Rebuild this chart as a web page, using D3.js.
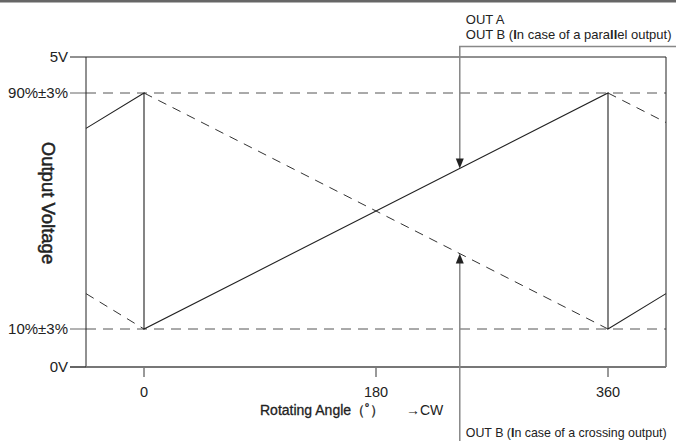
<!DOCTYPE html>
<html>
<head>
<meta charset="utf-8">
<script src="https://cdn.jsdelivr.net/npm/d3@7"></script>
<style>
  body { margin: 0; background: #fff; }
  text { font-family: "Liberation Sans", Arial, sans-serif; fill: #222; }
</style>
</head>
<body>
<div id="chart"></div>
<script>
// levels on the voltage axis (percent of 5V) and their labels
const levelValues = [0, 10, 90, 100];
const levelLabels = ["0V", "10%±3%", "90%±3%", "5V"];

// angle ticks (degrees)
const angleTicks = [0, 180, 360];

// OUT A (and OUT B in parallel mode): solid, rises over the turn
const outA = [[-45, 78], [0, 90], [0, 10], [360, 90], [360, 10], [405, 22]];
// OUT B in crossing mode: dashed, falls over the turn (pieces)
const outBCross = [
  [[-45, 22], [0, 10]],
  [[0, 90], [360, 10]],
  [[360, 90], [405, 80]]
];

// where the two callout arrows touch the curves
const calloutAngle = 245;
const calloutA = 64.4;
const calloutB = 35.6;

const width = 676, height = 441;
const margin = {left: 86, right: 10, top: 57, bottom: 74};

const svg = d3.select('#chart').append('svg')
    .attr('width', width)
    .attr('height', height);

// grey band at the very top
svg.append('rect')
    .attr('x', 0).attr('y', 0)
    .attr('width', width).attr('height', 2.5)
    .attr('fill', '#666');

const x = d3.scaleLinear()
    .domain([-45, 405])
    .range([margin.left, width - margin.right]);

// schematic axis: the picture is not linear, so use a piecewise scale
const y = d3.scaleLinear()
    .domain(levelValues)
    .range([367, 329, 93, 57]);

const x0 = x.range()[0], x1 = x.range()[1];

// reference lines for 10% and 90%
svg.selectAll('.ref')
    .data([10, 90])
    .join('line')
    .attr('class', 'ref')
    .attr('x1', x0).attr('x2', x1)
    .attr('y1', d => y(d)).attr('y2', d => y(d))
    .attr('stroke', '#555')
    .attr('stroke-width', 1)
    .attr('stroke-dasharray', '10,7');

// left stubs + labels
svg.selectAll('.stub')
    .data(levelValues)
    .join('line')
    .attr('class', 'stub')
    .attr('x1', 70).attr('x2', x0)
    .attr('y1', d => y(d)).attr('y2', d => y(d))
    .attr('stroke', d => d === 100 ? '#222' : '#666')
    .attr('stroke-width', d => d === 0 ? 2 : 1);

svg.selectAll('.lvl')
    .data(levelValues)
    .join('text')
    .attr('class', 'lvl')
    .attr('x', 68)
    .attr('y', d => y(d) + 5)
    .attr('text-anchor', 'end')
    .attr('font-size', 15)
    .text((d, i) => levelLabels[i]);

// frame: top 5V line, sides, bottom 0V axis
svg.append('line')
    .attr('x1', x0).attr('x2', x1)
    .attr('y1', y(100)).attr('y2', y(100))
    .attr('stroke', '#222');
svg.append('line')
    .attr('x1', x0).attr('x2', x0)
    .attr('y1', y(100)).attr('y2', y(0))
    .attr('stroke', '#222');
svg.append('line')
    .attr('x1', x1).attr('x2', x1)
    .attr('y1', y(100)).attr('y2', y(0))
    .attr('stroke', '#222');
svg.append('line')
    .attr('x1', x0).attr('x2', x1)
    .attr('y1', y(0)).attr('y2', y(0))
    .attr('stroke', '#777')
    .attr('stroke-width', 2);

// bottom ticks
svg.selectAll('.tick')
    .data(angleTicks)
    .join('line')
    .attr('class', 'tick')
    .attr('x1', d => x(d)).attr('x2', d => x(d))
    .attr('y1', y(0)).attr('y2', y(0) + 10)
    .attr('stroke', '#777')
    .attr('stroke-width', 1.5);
svg.selectAll('.tlab')
    .data(angleTicks)
    .join('text')
    .attr('class', 'tlab')
    .attr('x', d => x(d))
    .attr('y', 397)
    .attr('text-anchor', 'middle')
    .attr('font-size', 14.5)
    .text(d => d);

const line = d3.line().x(d => x(d[0])).y(d => y(d[1]));

// OUT B crossing (dashed)
svg.selectAll('.outb')
    .data(outBCross)
    .join('path')
    .attr('class', 'outb')
    .attr('d', line)
    .attr('fill', 'none')
    .attr('stroke', '#333')
    .attr('stroke-width', 1)
    .attr('stroke-dasharray', '9,7');

// OUT A (solid)
svg.append('path')
    .attr('d', line(outA))
    .attr('fill', 'none')
    .attr('stroke', '#222')
    .attr('stroke-width', 1.1);

// callouts
const cx = x(calloutAngle);
const tipA = y(calloutA), tipB = y(calloutB);

svg.append('path')
    .attr('d', `M${width + 5},46.5H${cx}V${tipA - 9}`)
    .attr('fill', 'none')
    .attr('stroke', '#888')
    .attr('stroke-width', 1.5);
svg.append('path')
    .attr('d', `M${cx},${tipA}l-4,-10h8z`)
    .attr('fill', '#222');

svg.append('path')
    .attr('d', `M${cx},${height + 5}V${tipB + 9}`)
    .attr('fill', 'none')
    .attr('stroke', '#888')
    .attr('stroke-width', 1.5);
svg.append('path')
    .attr('d', `M${cx},${tipB}l-4,10h8z`)
    .attr('fill', '#222');

// callout texts
svg.append('text')
    .attr('x', cx + 6).attr('y', 24)
    .attr('font-size', 13)
    .text('OUT A');

const tB = svg.append('text')
    .attr('x', cx + 6).attr('y', 38.5)
    .attr('font-size', 13);
tB.append('tspan').text('OUT B (');
tB.append('tspan').attr('font-weight', 'bold').text('I');
tB.append('tspan').text('n case of a para');
tB.append('tspan').attr('font-weight', 'bold').text('ll');
tB.append('tspan').text('el output)');

const tC = svg.append('text')
    .attr('x', cx + 6).attr('y', 436.5)
    .attr('font-size', 12.4);
tC.append('tspan').text('OUT B (');
tC.append('tspan').attr('font-weight', 'bold').text('I');
tC.append('tspan').text('n case of a crossing output)');

// axis titles
svg.append('text')
    .attr('transform', 'translate(42,203) rotate(90)')
    .attr('text-anchor', 'middle')
    .attr('font-size', 18.5)
    .attr('stroke', '#222')
    .attr('stroke-width', 0.5)
    .text('Output Voltage');

svg.append('text')
    .attr('x', 260).attr('y', 415)
    .attr('font-size', 14)
    .attr('stroke', '#222')
    .attr('stroke-width', 0.3)
    .text('Rotating Angle（˚）');

svg.append('text')
    .attr('x', 406).attr('y', 415)
    .attr('font-size', 14)
    .text('→CW');
</script>
</body>
</html>
